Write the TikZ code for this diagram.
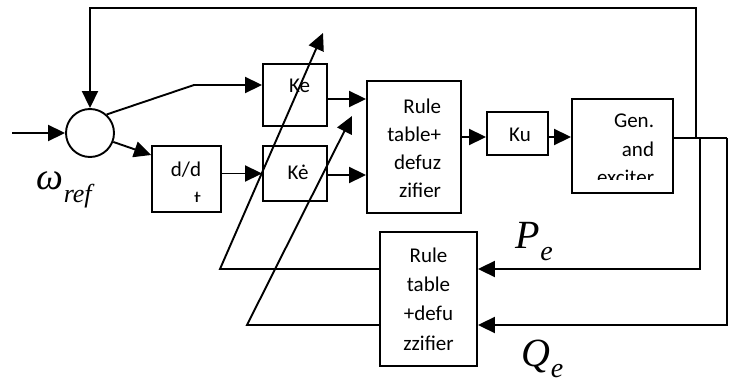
\documentclass[tikz,border=0pt]{standalone}
\usepackage{fontspec}
\setmainfont{Carlito}
\newfontfamily\lserif{Liberation Serif}
\usetikzlibrary{arrows.meta}
\begin{document}
\begin{tikzpicture}[x=1pt,y=-1pt,line width=1.9pt,
  box/.style={draw,rectangle,inner sep=0pt},
  txt/.style={font=\fontsize{21}{28.8}\selectfont, inner sep=0pt},
  arr/.style={-{Triangle[length=17pt,width=16pt]}},
  lbl/.style={inner sep=0pt, anchor=base west, font=\lserif\itshape}]
\useasboundingbox (0,0) rectangle (729,385);
% blocks
\node[draw,circle,minimum size=48pt,inner sep=0pt] (sum) at (90,133) {};
\node[box,minimum width=64pt,minimum height=62pt] (Ke) at (295,95) {};
\node[box,minimum width=64pt,minimum height=55pt] (Kd) at (295,173.5) {};
\node[box,minimum width=69pt,minimum height=66pt] (dd) at (186.5,179) {};
\node[box,minimum width=94pt,minimum height=132pt] (R1) at (414,147) {};
\node[box,minimum width=61pt,minimum height=43pt] (Ku) at (517.5,133.5) {};
\node[box,minimum width=101pt,minimum height=94pt] (Gen) at (622.5,146) {};
\node[box,minimum width=97pt,minimum height=134pt] (R2) at (428.5,299) {};
% texts
\node[txt,anchor=base] (tKe) at (299.5,93) {Ke};
\node[txt,anchor=base] (tKd) at (298,180) {Kė};
\node[txt,anchor=base] (tKu) at (520,142) {Ku};
\node[txt,anchor=base east,align=right,font=\fontsize{21}{28.3}\selectfont] (tR1) at (442,198) {Rule\\table+\\defuz\\zifier};
\node[txt,anchor=base,align=center,font=\fontsize{21}{29.3}\selectfont] (tR2) at (428.5,350) {Rule\\table\\+defu\\zzifier};
\begin{scope}
  \clip (572,99) rectangle (673,180);
  \node[txt,anchor=base east,align=right] (tGen) at (655,185) {Gen.\\and\\exciter};
\end{scope}
\begin{scope}
  \clip (152,146) rectangle (221,202);
  \node[txt,anchor=base east,align=right] (tdd) at (202,205.5) {d/d\\t};
\end{scope}
% labels
\node[lbl] (wref) at (36,190) {\fontsize{38}{38}\selectfont ω\raisebox{-13pt}{\fontsize{26}{26}\selectfont ref}};
\node[lbl] (Pe) at (515,248) {\fontsize{40}{40}\selectfont P\raisebox{-12pt}{\fontsize{28}{28}\selectfont e}};
\node[lbl] (Qe) at (521,366) {\fontsize{40}{40}\selectfont Q\raisebox{-11pt}{\fontsize{28}{28}\selectfont e}};
% coordinates
\coordinate (in) at (12,133);
\coordinate (b1) at (194,85);
\coordinate (b2) at (0,155);
\coordinate (y99) at (0,99);
\coordinate (y175) at (0,175);
\coordinate (yk) at (0,137);
\coordinate (yo) at (0,138);
\coordinate (yp) at (0,269);
\coordinate (yq) at (0,325);
\coordinate (j1) at (696,138);
\coordinate (j2) at (700,138);
\coordinate (j3) at (727,138);
\coordinate (tr) at (696,8);
\coordinate (c1) at (220,269);
\coordinate (t1) at (323,33);
\coordinate (c2) at (247,325);
\coordinate (t2) at (352,116);
% connectors
\draw[arr] (in) -- (sum.west);
\draw[arr] (sum.48) -- (b1) -- (b1 -| Ke.west);
\draw[arr] (sum.-21) -- (dd.west |- b2);
\draw[arr] (dd.east |- Kd.west) -- (Kd.west);
\draw[arr] (Ke.east |- y99) -- (R1.west |- y99);
\draw[arr] (Kd.east |- y175) -- (R1.west |- y175);
\draw[arr] (R1.east |- yk) -- (Ku.west |- yk);
\draw[arr] (Ku.east |- yk) -- (Gen.west |- yk);
\draw (Gen.east |- yo) -- (j3);
\draw[arr] (j1) -- (tr) -| (sum.north);
\draw[arr] (j2) -- (j2 |- yp) -- (R2.east |- yp);
\draw[arr] (j3) -- (j3 |- yq) -- (R2.east |- yq);
\draw[arr] (R2.west |- yp) -- (c1) -- (t1);
\draw[arr] (R2.west |- yq) -- (c2) -- (t2);
\end{tikzpicture}
\end{document}
